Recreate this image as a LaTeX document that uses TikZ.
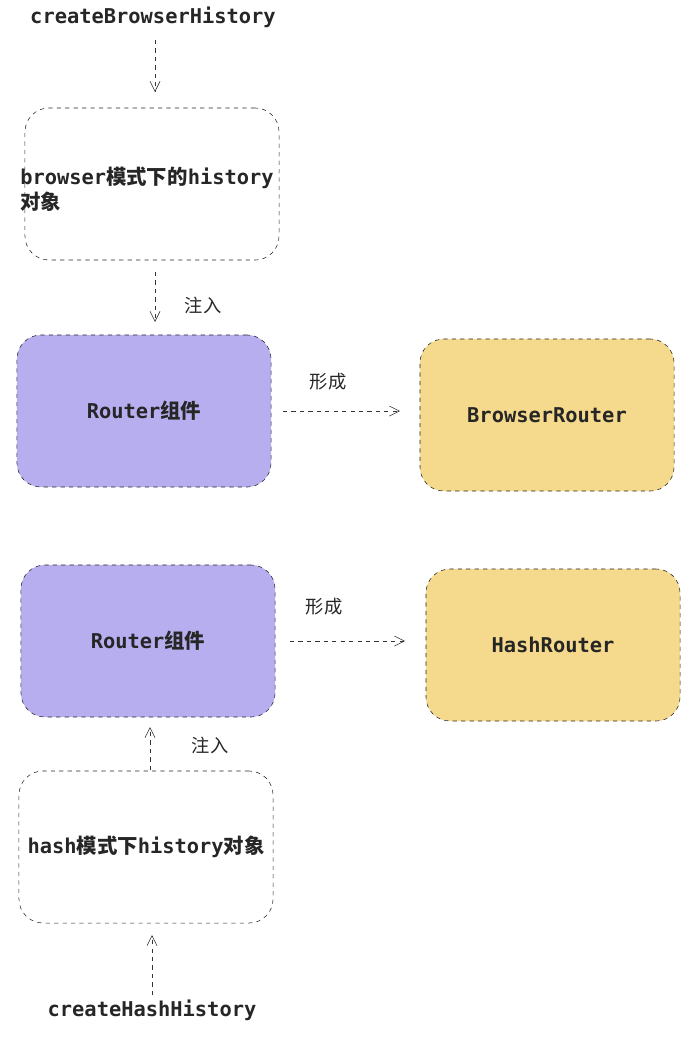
\documentclass[tikz,border=0pt]{standalone}
\usepackage{fontspec}
\setmonofont{DejaVu Sans Mono}
\newfontfamily\cjk{Noto Sans CJK SC}
\usetikzlibrary{positioning, arrows.meta}
\definecolor{ColorA}{HTML}{B7AEF0}
\definecolor{ColorB}{HTML}{F5D98C}
\begin{document}
\begin{tikzpicture}[x=0.025cm, y=-0.025cm,
box/.style={
	rectangle,
	draw=black!85,
	dashed,
	rounded corners = 6mm,
	minimum width=6.35cm,
	minimum height=3.8cm,
	font=\fontsize{14.5}{18}\selectfont\ttfamily\bfseries,
	text = black!85},
txt/.style={
	font=\fontsize{14.5}{18}\selectfont\ttfamily\bfseries,
	text = black!85},
lab/.style={
	font=\fontsize{13}{16}\selectfont\cjk,
	text = black!85},
post/.style={
	-{Straight Barb[length=2.5mm,width=2.5mm]},
	draw,
	dashed,
	thin,
	color = black!80}]

\useasboundingbox (0,0) rectangle (694,1044);

%Browser
\node[txt] (cbh) at (153,17) {createBrowserHistory};
\node[box] (bh) at (152,184) {};
\node[txt, align=left, anchor=west, inner sep=0pt] at (20,189) {browser{\cjk 模式下的}history\\{\cjk 对象}};
\node[box, fill=ColorA] (r1) at (144,411) {Router{\cjk 组件}};
\node[box, fill=ColorB] (br) at (547,415) {BrowserRouter};

\coordinate (a1) at (155,40);  \coordinate (b1) at (155,92);
\coordinate (a2) at (155,272); \coordinate (b2) at (155,322);
\coordinate (a3) at (283,411); \coordinate (b3) at (400,411);
\path[post] (a1) -- (b1);
\path[post] (a2) -- (b2);
\node[lab] at (203,305) {注入};
\path[post] (a3) -- (b3);
\node[lab] at (328,382) {形成};

%Hash
\node[box, fill=ColorA] (r2) at (148,641) {Router{\cjk 组件}};
\node[box, fill=ColorB] (hr) at (553,645) {HashRouter};
\node[box] (hh) at (146,847) {hash{\cjk 模式下}history{\cjk 对象}};
\node[txt] (chh) at (152,1010) {createHashHistory};

\coordinate (a4) at (290,641); \coordinate (b4) at (405,641);
\coordinate (a5) at (150,770); \coordinate (b5) at (150,727);
\coordinate (a6) at (152,995); \coordinate (b6) at (152,935);
\path[post] (a4) -- (b4);
\node[lab] at (324,607) {形成};
\path[post] (a5) -- (b5);
\node[lab] at (210,745) {注入};
\path[post] (a6) -- (b6);
\end{tikzpicture}
\end{document}
